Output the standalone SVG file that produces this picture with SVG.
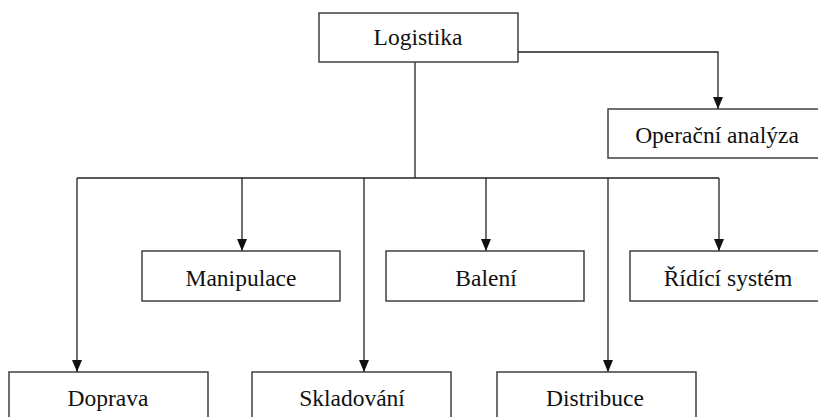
<svg xmlns="http://www.w3.org/2000/svg" width="818" height="417" viewBox="0 0 818 417">
<defs>
<marker id="arr" markerWidth="12" markerHeight="10" refX="12" refY="5" orient="auto" markerUnits="userSpaceOnUse" viewBox="0 0 12 10">
<path d="M0,0 L12,5 L0,10 Z" fill="#111"/>
</marker>
</defs>
<style>
.box{fill:#fff;stroke:#333;stroke-width:1.4}
.lbl{font-family:"Liberation Serif","Times New Roman",serif;font-size:23.5px;fill:#111;text-anchor:middle}
.ln{fill:none;stroke:#222;stroke-width:1.3}
.ar{fill:none;stroke:#222;stroke-width:1.3}
</style>
<rect width="818" height="417" fill="#fff"/>
<g id="connectors">
<polyline class="ln" points="415,62 415,178"/>
<polyline class="ln" points="77,178 719,178"/>
<polyline class="ar" points="518,52 718,52 718,109" marker-end="url(#arr)"/>
<polyline class="ar" points="77,178 77,372" marker-end="url(#arr)"/>
<polyline class="ar" points="242,178 242,251" marker-end="url(#arr)"/>
<polyline class="ar" points="364,178 364,372" marker-end="url(#arr)"/>
<polyline class="ar" points="486,178 486,251" marker-end="url(#arr)"/>
<polyline class="ar" points="608,178 608,372" marker-end="url(#arr)"/>
<polyline class="ar" points="719,178 719,251" marker-end="url(#arr)"/>
</g>
<g id="logistika">
<rect class="box" x="319" y="13" width="199" height="49"/>
<text class="lbl" x="418" y="45">Logistika</text>
</g>
<g id="operacni">
<rect class="box" x="608" y="109" width="230" height="49"/>
<text class="lbl" x="717" y="143">Operační analýza</text>
</g>
<g id="manipulace">
<rect class="box" x="142" y="251" width="198" height="50"/>
<text class="lbl" x="241" y="286">Manipulace</text>
</g>
<g id="baleni">
<rect class="box" x="386" y="251" width="198" height="50"/>
<text class="lbl" x="486" y="286">Balení</text>
</g>
<g id="ridici">
<rect class="box" x="630" y="251" width="210" height="50"/>
<text class="lbl" x="728" y="286">Řídící systém</text>
</g>
<g id="doprava">
<rect class="box" x="9" y="372" width="199" height="60"/>
<text class="lbl" x="108" y="406">Doprava</text>
</g>
<g id="skladovani">
<rect class="box" x="252" y="372" width="199" height="60"/>
<text class="lbl" x="352" y="406">Skladování</text>
</g>
<g id="distribuce">
<rect class="box" x="497" y="372" width="199" height="60"/>
<text class="lbl" x="595" y="406">Distribuce</text>
</g>
</svg>
